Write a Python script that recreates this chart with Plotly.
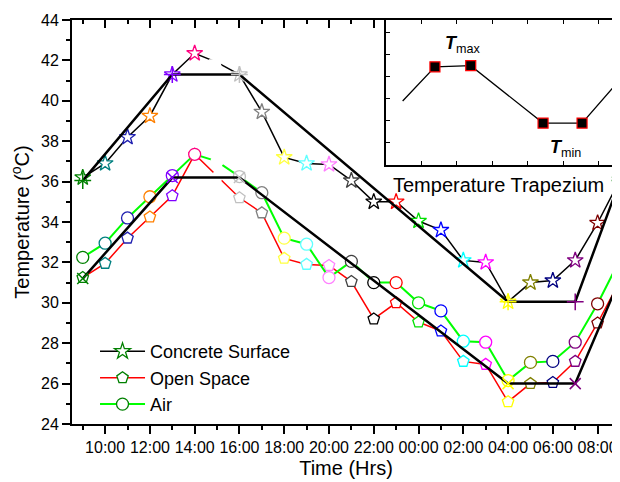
import plotly.graph_objects as go

# ---------------- data ----------------
hours = [9, 10, 11, 12, 13, 14, 15, 16, 17, 18, 19, 20, 21, 22, 23, 24, 25, 26, 27, 28, 29, 30, 31, 32, 33]

concrete = [36.2, 36.9, 38.2, 39.25, 41.3, 42.35, 41.9, 41.3, 39.45, 37.2, 36.9, 36.85, 36.05,
            35.0, 35.0, 34.05, 33.6, 32.1, 32.0, 30.05, 31.0, 31.1, 32.1, 33.95, 36.1]
open_space = [31.25, 31.95, 33.2, 34.25, 35.3, 37.35, 36.25, 35.2, 34.45, 32.2, 31.9, 31.85, 31.05,
              29.2, 30.0, 29.05, 28.6, 27.1, 26.95, 25.1, 26.0, 26.05, 27.1, 29.0, 31.1]
air = [32.25, 32.95, 34.2, 35.25, 36.3, 37.35, 37.0, 36.25, 35.45, 33.2, 32.9, 31.25, 32.05,
       31.0, 31.0, 30.0, 29.6, 28.1, 28.05, 26.15, 27.05, 27.1, 28.05, 29.95, 32.15]

hour_colors = ["#008000", "#008080", "#2020B0", "#FF8000", "#8000FF", "#FF0080", "#FFFFFF",
               "#C0C0C0", "#808080", "#FFFF40", "#60FFFF", "#FF80FF", "#404040", "#000000",
               "#FF0000", "#00E000", "#0000FF", "#00FFFF", "#FF00FF", "#FFFF00", "#808000",
               "#000080", "#800080", "#800000", "#008000"]

trap_hours = [9, 13, 16, 28, 31, 33]
trap_concrete = [36.05, 41.3, 41.3, 30.05, 30.05, 36.05]
trap_ambient = [31.2, 36.2, 36.2, 26.0, 26.0, 31.2]

tick_hours = [10, 12, 14, 16, 18, 20, 22, 24, 26, 28, 30, 32]
tick_labels = ["10:00", "12:00", "14:00", "16:00", "18:00", "20:00", "22:00",
               "00:00", "02:00", "04:00", "06:00", "08:00"]

inset_x = [0.47, 1.38, 2.39, 4.43, 5.53, 6.45]
inset_y = [2.9, 4.45, 4.5, 1.9, 1.9, 3.6]

FONT = "Liberation Sans, Arial, sans-serif"

fig = go.Figure()


def data_trace(y, name, line_color, symbol, lw):
    return go.Scatter(
        x=hours, y=y, name=name, mode="lines+markers",
        line=dict(color=line_color, width=lw),
        marker=dict(symbol=symbol, size=12, color="white",
                    line=dict(color=hour_colors, width=1.3)),
        hoverinfo="skip",
    )


fig.add_trace(data_trace(concrete, "Concrete Surface", "black", "star", 1.5))
fig.add_trace(data_trace(open_space, "Open Space", "#FF0000", "pentagon", 1.5))
fig.add_trace(data_trace(air, "Air", "#00FF00", "circle", 2))

trap_colors = [hour_colors[hours.index(h)] for h in trap_hours]
fig.add_trace(go.Scatter(
    x=trap_hours, y=trap_concrete, mode="lines+markers", showlegend=False,
    line=dict(color="black", width=2.5),
    marker=dict(symbol="cross-thin", size=12, line=dict(color=trap_colors, width=1.5)),
    hoverinfo="skip"))
fig.add_trace(go.Scatter(
    x=trap_hours, y=trap_ambient, mode="lines+markers", showlegend=False,
    line=dict(color="black", width=2.5),
    marker=dict(symbol="x-thin", size=11, line=dict(color=trap_colors, width=1.5)),
    hoverinfo="skip"))

# mirror axes (top/right, ticks inside)
fig.add_trace(go.Scatter(x=[hours[0]], y=[concrete[0]], xaxis="x3", yaxis="y3",
                         mode="markers", marker=dict(opacity=0), showlegend=False,
                         hoverinfo="skip"))

# inset
fig.add_trace(go.Scatter(x=inset_x, y=inset_y, xaxis="x2", yaxis="y2", mode="lines",
                         line=dict(color="black", width=1.3), showlegend=False,
                         hoverinfo="skip"))
fig.add_trace(go.Scatter(x=inset_x[1:5], y=inset_y[1:5], xaxis="x2", yaxis="y2",
                         mode="markers", showlegend=False, hoverinfo="skip",
                         marker=dict(symbol="square", size=10, color="black",
                                     line=dict(color="#FF0000", width=1.2))))

x_range = [8.52, 33.0]
y_range = [24, 44]

axis_common = dict(showline=True, linecolor="black", linewidth=2, showgrid=False,
                   zeroline=False, tickcolor="black", tickwidth=1.5, automargin=False)

fig.update_layout(
    width=612, height=474,
    margin=dict(l=64, r=0, t=12, b=58),
    paper_bgcolor="white", plot_bgcolor="white",
    font=dict(family=FONT, color="black"),
    xaxis=dict(**axis_common, range=x_range, tickmode="array", tickvals=tick_hours,
               ticktext=tick_labels, ticks="outside", ticklen=8,
               tickfont=dict(size=16, family=FONT),
               minor=dict(tickmode="array", tickvals=hours, ticks="outside", ticklen=4,
                          tickwidth=1.5, tickcolor="black"),
               title=dict(text="Time (Hrs)", font=dict(size=20, family=FONT), standoff=6),
               domain=[0, 1], anchor="y"),
    yaxis=dict(**axis_common, range=y_range, dtick=2, ticks="outside", ticklen=8,
               tickfont=dict(size=16, family=FONT),
               minor=dict(dtick=1, ticks="outside", ticklen=4, tickwidth=1.5,
                          tickcolor="black"),
               title=dict(text="Temperature (<sup>o</sup>C)",
                          font=dict(size=20, family=FONT), standoff=10),
               domain=[0, 1], anchor="x"),
    xaxis3=dict(**axis_common, range=x_range, overlaying="x", side="top", anchor="y3",
                tickmode="array", tickvals=tick_hours, ticks="inside", ticklen=8,
                showticklabels=False,
                minor=dict(tickmode="array", tickvals=hours, ticks="inside", ticklen=4,
                           tickwidth=1.5, tickcolor="black")),
    yaxis3=dict(**axis_common, range=y_range, overlaying="y", side="right", anchor="x3",
                dtick=2, ticks="inside", ticklen=8, showticklabels=False,
                minor=dict(dtick=1, ticks="inside", ticklen=4, tickwidth=1.5,
                           tickcolor="black")),
    xaxis2=dict(domain=[0.573, 1.0], anchor="y2", range=[0, 6.6], dtick=1,
                showline=True, linecolor="black", linewidth=1.5, mirror="allticks",
                ticks="inside", ticklen=4, tickwidth=1.2, tickcolor="black",
                showticklabels=False, showgrid=False, zeroline=False, automargin=False),
    yaxis2=dict(domain=[0.641, 1.0], anchor="x2", range=[0, 6.57], dtick=1,
                showline=True, linecolor="black", linewidth=1.5, mirror="allticks",
                ticks="inside", ticklen=4, tickwidth=1.2, tickcolor="black",
                showticklabels=False, showgrid=False, zeroline=False, automargin=False),
    legend=dict(x=0.042, y=0.225, xanchor="left", yanchor="top",
                font=dict(size=18, family=FONT), bgcolor="rgba(0,0,0,0)",
                tracegroupgap=0, itemwidth=45),
    showlegend=True,
    annotations=[
        dict(text="<b><i>T</i></b><sub>max</sub>", x=2.17, y=5.45, xref="x2", yref="y2",
             showarrow=False, font=dict(size=18, family=FONT)),
        dict(text="<b><i>T</i></b><sub>min</sub>", x=5.07, y=0.77, xref="x2", yref="y2",
             showarrow=False, font=dict(size=18, family=FONT)),
        dict(text="Temperature Trapezium", x=0.778, y=0.592, xref="paper", yref="paper",
             showarrow=False, xanchor="center", yanchor="middle",
             font=dict(size=20, family=FONT)),
    ],
)

fig.write_html("out.html")
